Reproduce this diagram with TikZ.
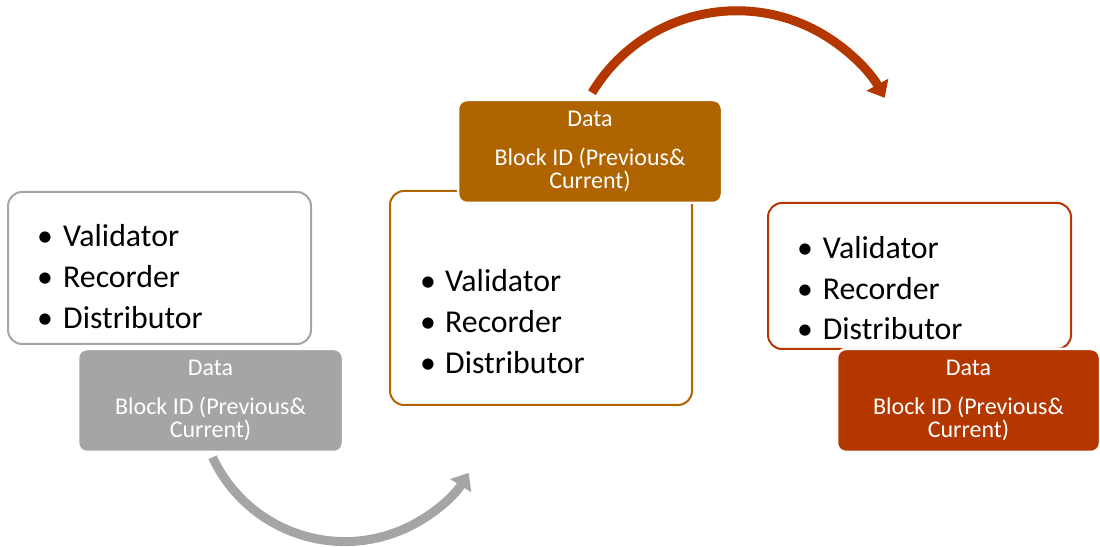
\documentclass[tikz,border=0pt]{standalone}
\usepackage{fontspec}
\setmainfont{Carlito}
\usetikzlibrary{arrows.meta}

\definecolor{greyacc}{HTML}{A5A5A5}
\definecolor{amber}{HTML}{AF6400}
\definecolor{rust}{HTML}{B43700}

\tikzset{
  listbox/.style={draw, line width=2pt, rounded corners=14pt, fill=white, inner sep=0pt},
  datablock/.style={draw=white, line width=2.5pt, rounded corners=9pt, inner sep=0pt,
                    minimum width=264pt, minimum height=103pt},
  itemtext/.style={anchor=base west, inner sep=0pt, text=black,
                   font=\fontsize{31.8}{40.8}\selectfont},
  itembullets/.style={anchor=base, inner sep=0pt, text=black,
                      font=\fontsize{31.8}{40.8}\selectfont},
  datatext/.style={anchor=base, inner sep=0pt, text=white,
                   font=\fontsize{24}{24}\selectfont},
  bendarrow/.style={line width=9pt, -{Triangle[length=15pt,width=24pt]}},
}

\newcommand\roleslist{\begin{tabular}[t]{@{}l@{}}Validator\\Recorder\\Distributor\end{tabular}}
\newcommand\roledots{\begin{tabular}[t]{@{}c@{}}\textbullet\\\textbullet\\\textbullet\end{tabular}}
% three centred lines of a data block: #1 name prefix, #2 centre x, #3 top edge y
\newcommand\blocktext[3]{%
  \node[datatext] (#1a) at (#2,#3-26.7) {Data};
  \node[datatext] (#1b) at (#2,#3-65.3) {Block ID (Previous\&};
  \node[datatext] (#1c) at (#2,#3-88.7) {Current)};
}

\begin{document}
\begin{tikzpicture}[x=1pt,y=1pt]
  \useasboundingbox (0,0) rectangle (1100,546);

  % first stage
  \node[listbox, draw=greyacc, minimum width=303pt, minimum height=152pt] (box1) at (159.5,278) {};
  \node[datablock, fill=greyacc, minimum width=265pt] (data1) at (210.5,145.5) {};
  \node[itembullets] (dots1) at (45,299.3) {\roledots};
  \node[itemtext] (roles1) at (63,299.3) {\roleslist};
  \blocktext{infoA}{210.5}{197}

  % second stage
  \node[listbox, draw=amber, minimum width=302pt, minimum height=214pt] (box2) at (541,248) {};
  \node[datablock, fill=amber] (data2) at (590,394.5) {};
  \node[itembullets] (dots2) at (428,254.3) {\roledots};
  \node[itemtext] (roles2) at (445,254.3) {\roleslist};
  \blocktext{infoB}{590}{446}

  % third stage
  \node[listbox, draw=rust, minimum width=303pt, minimum height=146pt] (box3) at (919.5,270) {};
  \node[datablock, fill=rust, minimum width=263pt] (data3) at (968.5,145.5) {};
  \node[itembullets] (dots3) at (805,287.7) {\roledots};
  \node[itemtext] (roles3) at (822.7,287.7) {\roleslist};
  \blocktext{infoC}{968.5}{197}

  % curved hand-over arrows
  \draw[bendarrow, greyacc] ([xshift=2pt,yshift=-4pt]data1.south)
      arc[start angle=205, end angle=328, radius=146];
  \draw[bendarrow, rust] ([xshift=2pt,yshift=6pt]data2.north)
      arc[start angle=149, end angle=29, radius=169];
\end{tikzpicture}
\end{document}
